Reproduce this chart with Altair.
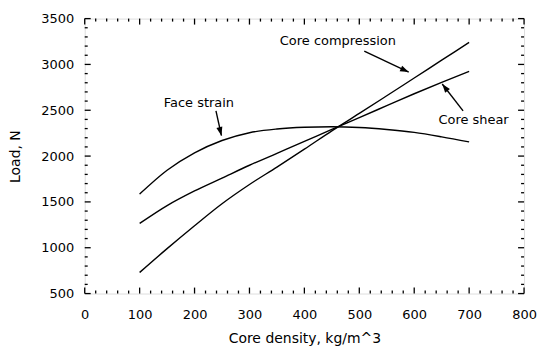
import altair as alt
import pandas as pd

# ---- data ----
density = [100, 150, 200, 250, 300, 350, 400, 450, 500, 550, 600, 650, 700]
face_strain = [1585, 1845, 2035, 2170, 2255, 2295, 2314, 2320, 2312, 2290, 2258, 2210, 2155]
core_shear = [1265, 1460, 1620, 1760, 1900, 2030, 2160, 2292, 2420, 2550, 2680, 2805, 2925]
core_compression = [730, 990, 1240, 1480, 1690, 1880, 2075, 2275, 2465, 2658, 2852, 3046, 3240]

x_major = list(range(0, 801, 100))
x_minor = [v for v in range(0, 801, 20) if v % 100]
y_major = list(range(500, 3501, 500))
y_minor = [v for v in range(500, 3501, 100) if v % 500]

label_text = ["Core compression", "Face strain", "Core shear"]
label_x = [461, 208, 708]
label_y = [3252, 2580, 2396]
arrow_x0 = [509, 239, 689]
arrow_y0 = [3144, 2493, 2493]
arrow_x1 = [590, 249, 651]
arrow_y1 = [2916, 2223, 2786]
arrow_angle = [115, 166, 322]

W, H = 441, 276
FONT = "DejaVu Sans"

rows = []
for name, vals in [("Face strain", face_strain), ("Core shear", core_shear),
                   ("Core compression", core_compression)]:
    for d, v in zip(density, vals):
        rows.append({"series": name, "density": d, "load": v})
df = pd.DataFrame(rows)

xs = alt.Scale(domain=[0, 800], nice=False, zero=False)
ys = alt.Scale(domain=[500, 3500], nice=False, zero=False)

x_axis = alt.Axis(values=x_major, format="d", ticks=False, tickSize=0, domain=False, grid=False,
                  labelPadding=15, labelFont=FONT, labelFontSize=13, labelColor="black",
                  labelFlush=False, title="Core density, kg/m^3", titleFont=FONT,
                  titleFontSize=14, titleFontWeight="normal", titleColor="black",
                  titlePadding=10)
y_axis = alt.Axis(values=y_major, format="d", ticks=False, tickSize=0, domain=False, grid=False,
                  labelPadding=11, labelFont=FONT, labelFontSize=13, labelColor="black",
                  labelFlush=False, title="Load, N", titleFont=FONT,
                  titleFontSize=14, titleFontWeight="normal", titleColor="black",
                  titlePadding=18)

def X(f):
    return alt.X(f, type="quantitative", scale=xs, axis=x_axis, title="Core density, kg/m^3")

def Y(f):
    return alt.Y(f, type="quantitative", scale=ys, axis=y_axis, title="Load, N")

lines = alt.Chart(df).mark_line(color="black", strokeWidth=1.4, interpolate="monotone").encode(
    x=X("density"), y=Y("load"), detail="series:N",
)

def tick_layer(values, channel, length, side):
    d = pd.DataFrame({"v": values})
    base = alt.Chart(d).mark_rule(color="black", strokeWidth=1.3)
    if channel == "x":
        if side == "bottom":
            yy = dict(y=alt.value(H), y2=alt.value(H - length))
        else:
            yy = dict(y=alt.value(0), y2=alt.value(length))
        return base.encode(x=X("v"), **yy)
    else:
        if side == "left":
            xx = dict(x=alt.value(0), x2=alt.value(length))
        else:
            xx = dict(x=alt.value(W), x2=alt.value(W - length))
        return base.encode(y=Y("v"), **xx)

ticks = [
    tick_layer(x_major, "x", 6, "bottom"), tick_layer(x_minor, "x", 3, "bottom"),
    tick_layer(x_major, "x", 6, "top"), tick_layer(x_minor, "x", 3, "top"),
    tick_layer(y_major, "y", 6, "left"), tick_layer(y_minor, "y", 3, "left"),
    tick_layer(y_major, "y", 6, "right"), tick_layer(y_minor, "y", 3, "right"),
]

ann = pd.DataFrame({"text": label_text, "lx": label_x, "ly": label_y,
                    "x0": arrow_x0, "y0": arrow_y0, "x1": arrow_x1, "y1": arrow_y1,
                    "angle": arrow_angle})

texts = alt.Chart(ann).mark_text(font=FONT, fontSize=13, color="black",
                                 align="center", baseline="middle").encode(
    x=X("lx"), y=Y("ly"), text="text:N")

shafts = alt.Chart(ann).mark_rule(color="black", strokeWidth=1.4).encode(
    x=X("x0"), y=Y("y0"), x2="x1:Q", y2="y1:Q")

heads = alt.Chart(ann).mark_point(shape="M0,0L-0.35,1L0.35,1Z", filled=True, color="black",
                                  opacity=1, size=300).encode(
    x=X("x1"), y=Y("y1"), angle=alt.Angle("angle:Q", scale=None))

chart = alt.layer(lines, *ticks, shafts, heads, texts).properties(
    width=W, height=H,
    padding={"left": 0, "top": 4, "right": 0, "bottom": 0},
).configure_view(stroke="black", strokeWidth=1.5).configure(background="white")

chart.save("out.html", embed_options={"renderer": "svg", "actions": False})
